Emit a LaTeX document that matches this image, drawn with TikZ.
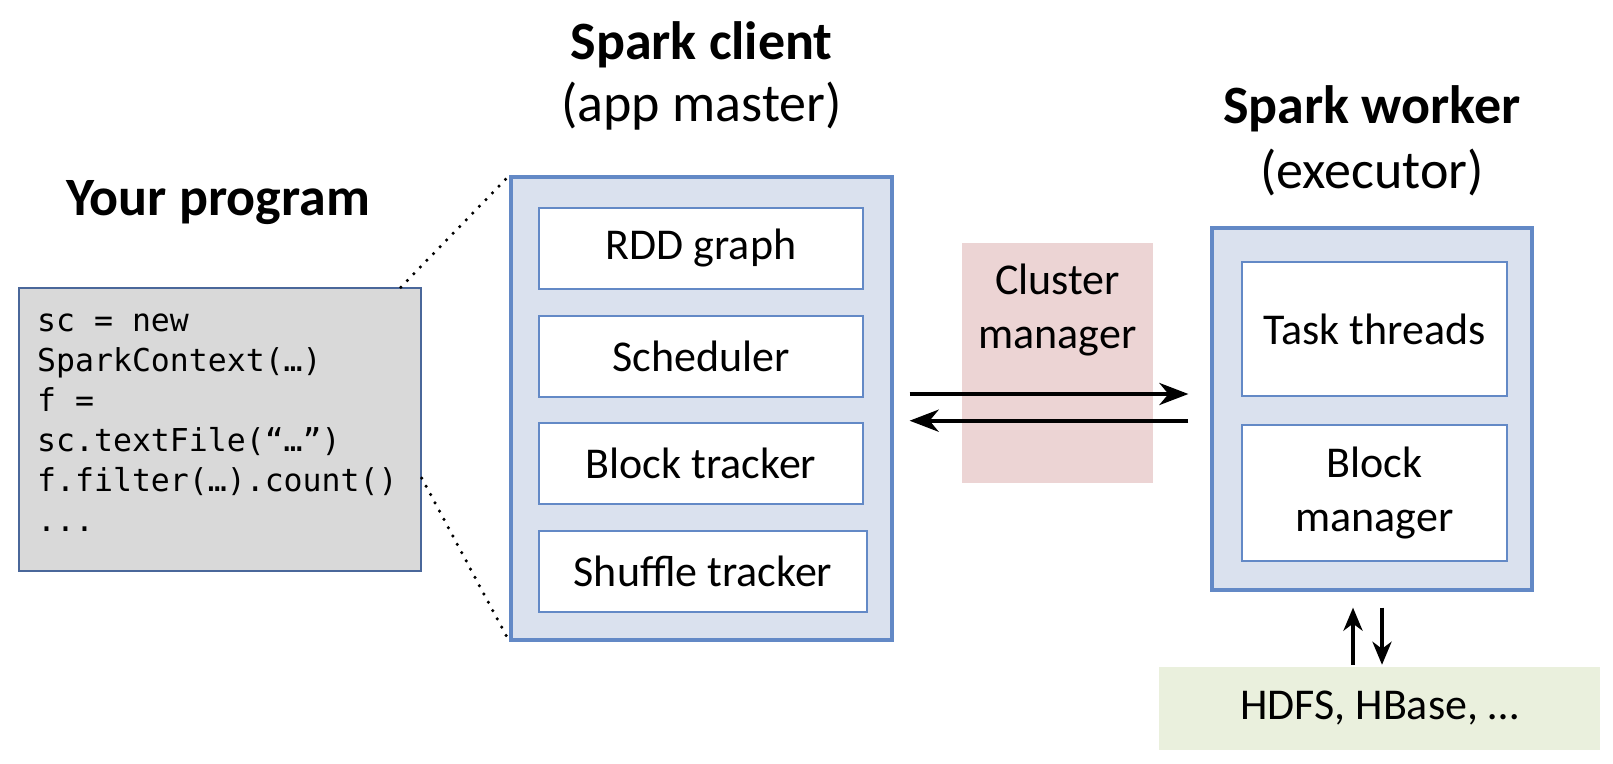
\documentclass[tikz,border=0pt]{standalone}
\usepackage{fontspec}
\setmainfont{Carlito}
\setmonofont{DejaVu Sans Mono}
\usetikzlibrary{arrows.meta,calc}
\definecolor{bord}{HTML}{6389C6}
\definecolor{progbord}{HTML}{4A679A}
\definecolor{panel}{HTML}{DAE1EE}
\definecolor{proggray}{HTML}{D9D9D9}
\definecolor{pink}{HTML}{ECD4D4}
\definecolor{hgreen}{HTML}{EAF0DD}
\tikzset{
  outerbox/.style={draw=bord, line width=3.2pt, fill=panel, inner sep=0pt},
  innerbox/.style={draw=bord, line width=1.5pt, fill=white, inner sep=0pt,
    font=\fontsize{44}{54}\selectfont, align=center},
  titleb/.style={font=\fontsize{54}{64}\selectfont\bfseries, inner sep=0pt, anchor=base},
  titler/.style={font=\fontsize{54}{64}\selectfont, inner sep=0pt, anchor=base},
  codetext/.style={font=\fontsize{31.5}{40}\selectfont\ttfamily, align=left, inner sep=0pt, anchor=north west},
  arr/.style={line width=4.2pt, -{Stealth[length=29pt,width=22pt,inset=9pt]}},
  varr/.style={line width=4pt, -{Stealth[length=23pt,width=19pt,inset=7pt]}},
  dotline/.style={line width=3.5pt, line cap=round, dash pattern=on 0pt off 9.4pt}
}
\begin{document}
\begin{tikzpicture}[x=1pt,y=-1pt]
\useasboundingbox[fill=white] (0,0) rectangle (1613,763);

% Your program
\node[titleb] (ytitle) at (218,215) {Your program};
\node[draw=progbord, line width=1.5pt, fill=proggray, minimum width=402pt, minimum height=283pt, inner sep=0pt] (prog) at (220,429.5) {};
\node[codetext] (code) at (37,303) {\strut sc = new\\SparkContext(…)\\f =\\sc.textFile(“…”)\\f.filter(…).count()\\...};

% Spark client
\node[titleb] (ctitle) at (701.5,59) {Spark client};
\node[titler] (csub) at (701.5,121) {(app master)};
\node[outerbox, minimum width=381pt, minimum height=463pt] (client) at (701.5,408.5) {};
\node[innerbox, minimum width=324pt, minimum height=81pt] (rdd) at (701,248.5) {RDD graph};
\node[innerbox, minimum width=324pt, minimum height=81pt] (sched) at (701,356.5) {Scheduler};
\node[innerbox, minimum width=324pt, minimum height=81pt] (btrack) at (701,463.5) {Block tracker};
\node[innerbox, minimum width=328pt, minimum height=81pt] (strack) at (703,571.5) {Shuffle tracker};

% dotted zoom lines
\draw[dotline] ([xshift=-21pt]prog.north east) -- (client.north west);
\draw[dotline] ([yshift=-48.5pt]prog.east) -- (client.south west);

% Cluster manager
\node[fill=pink, minimum width=191pt, minimum height=240pt, inner sep=0pt] (cm) at (1057.5,363) {};
\node[font=\fontsize{44}{54}\selectfont, align=center, inner sep=0pt, anchor=base] (cmtext) at (1057.5,348) {Cluster\\manager};

% Spark worker
\node[titleb] (wtitle) at (1372,123) {Spark worker};
\node[titler] (wsub) at (1372,188) {(executor)};
\node[outerbox, minimum width=320pt, minimum height=362pt] (worker) at (1372,409) {};
\node[innerbox, minimum width=265pt, minimum height=134pt] (task) at (1374.5,329) {Task threads};
\node[innerbox, minimum width=265pt, minimum height=136pt] (bman) at (1374.5,493) {Block\\manager};

% storage
\node[fill=hgreen, minimum width=441pt, minimum height=83pt, inner sep=0pt,
  font=\fontsize{44}{54}\selectfont] (hdfs) at (1379.5,708.5) {HDFS, HBase, …};

% arrows between client and worker
\draw[arr] ([xshift=16pt,yshift=14.5pt]client.east) -- ([xshift=-22pt,yshift=15pt]worker.west);
\draw[arr] ([xshift=-22pt,yshift=-11.7pt]worker.west) -- ([xshift=16pt,yshift=-12.2pt]client.east);

% arrows worker <-> storage
\coordinate (upx) at ([xshift=-19pt,yshift=-16pt]worker.south);
\coordinate (dnx) at ([xshift=10pt,yshift=-16pt]worker.south);
\draw[varr] ([yshift=2pt]upx |- hdfs.north) -- (upx);
\draw[varr] (dnx) -- ([yshift=2pt]dnx |- hdfs.north);
\end{tikzpicture}
\end{document}
